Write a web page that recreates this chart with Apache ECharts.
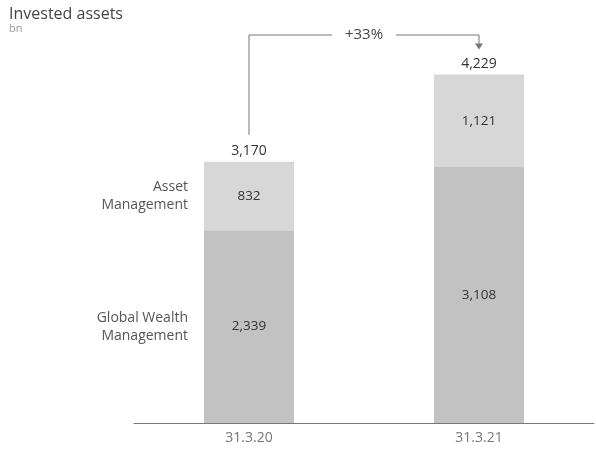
<!DOCTYPE html>
<html>
<head>
<meta charset="utf-8">
<script src="https://cdn.jsdelivr.net/npm/echarts@6/dist/echarts.min.js"></script>
<style>
  html, body { margin: 0; padding: 0; background: #fff; }
  #chart { width: 596px; height: 452px; }
</style>
</head>
<body>
<div id="chart"></div>
<script>
var categories = ['31.3.20', '31.3.21']
var gwmValues = [2339, 3108]
var amValues = [832, 1121]
var totals = [3170, 4229]
var growthLabel = '+33%'
var segmentNames = ['Global Wealth\nManagement', 'Asset\nManagement']

var font = '"Open Sans", "Noto Sans", sans-serif'
var fmt = function (v) { return v.toLocaleString('en-US') }

var myChart = echarts.init(document.getElementById('chart'))

var option = {
  backgroundColor: '#fff',
  animation: false,
  textStyle: { fontFamily: font },
  title: {
    text: 'Invested assets',
    subtext: 'bn',
    left: 4,
    top: 1,
    itemGap: 1,
    textStyle: { fontSize: 16, fontWeight: 'normal', color: '#444', fontFamily: font },
    subtextStyle: { fontSize: 11, color: '#999', fontFamily: font }
  },
  grid: { left: 134, right: 2, top: 44, bottom: 29 },
  xAxis: {
    type: 'category',
    data: categories,
    axisLine: { lineStyle: { color: '#777', width: 1 } },
    axisTick: { show: false },
    axisLabel: { color: '#777', fontSize: 14, margin: 8, fontFamily: font }
  },
  yAxis: {
    type: 'value',
    min: 0,
    max: 4600,
    show: false,
    splitLine: { show: false }
  },
  series: [
    {
      name: 'Global Wealth Management',
      type: 'bar',
      stack: 'total',
      barWidth: 90,
      data: gwmValues,
      itemStyle: { color: '#c2c2c2' },
      label: {
        show: true, position: 'inside', color: '#333', fontSize: 13.5, fontFamily: font,
        formatter: function (p) { return fmt(p.value) }
      }
    },
    {
      name: 'Asset Management',
      type: 'bar',
      stack: 'total',
      data: amValues,
      itemStyle: { color: '#d7d7d7' },
      label: {
        show: true, position: 'inside', color: '#333', fontSize: 13.5, fontFamily: font,
        formatter: function (p) { return fmt(p.value) }
      }
    },
    {
      name: 'Total',
      type: 'bar',
      stack: 'total',
      data: totals.map(function () { return 0 }),
      itemStyle: { color: 'transparent' },
      label: {
        show: true, position: 'top', distance: 4, color: '#333', fontSize: 14, fontFamily: font,
        formatter: function (p) { return fmt(totals[p.dataIndex]) }
      }
    }
  ]
}
myChart.setOption(option)

// connector arrow and segment names, placed with the chart's own scales
var p0 = myChart.convertToPixel({ gridIndex: 0 }, [0, totals[0]])
var p1 = myChart.convertToPixel({ gridIndex: 0 }, [1, totals[1]])
var gwmMid = myChart.convertToPixel({ gridIndex: 0 }, [0, gwmValues[0] / 2])
var amMid = myChart.convertToPixel({ gridIndex: 0 }, [0, gwmValues[0] + amValues[0] / 2])
var lineY = 35
var midX = (p0[0] + p1[0]) / 2
var gap = 32
var grey = '#777'
var nameX = p0[0] - 61

myChart.setOption({
  graphic: [
    { type: 'polyline', shape: { points: [[p0[0], p0[1] - 27], [p0[0], lineY], [midX - gap, lineY]] },
      style: { stroke: grey, lineWidth: 1, fill: null } },
    { type: 'polyline', shape: { points: [[midX + gap, lineY], [p1[0], lineY], [p1[0], p1[1] - 28]] },
      style: { stroke: grey, lineWidth: 1, fill: null } },
    { type: 'polygon', shape: { points: [[p1[0] - 4, p1[1] - 31], [p1[0] + 4, p1[1] - 31], [p1[0], p1[1] - 25]] },
      style: { fill: grey } },
    { type: 'text', x: midX, y: lineY,
      style: { text: growthLabel, fill: '#444', font: '15px ' + font, align: 'center', verticalAlign: 'middle' } },
    { type: 'text', x: nameX, y: amMid[1],
      style: { text: segmentNames[1], fill: '#555', font: '14px ' + font, align: 'right', verticalAlign: 'middle', lineHeight: 18 } },
    { type: 'text', x: nameX, y: gwmMid[1],
      style: { text: segmentNames[0], fill: '#555', font: '14px ' + font, align: 'right', verticalAlign: 'middle', lineHeight: 18 } }
  ]
})
</script>
</body>
</html>
